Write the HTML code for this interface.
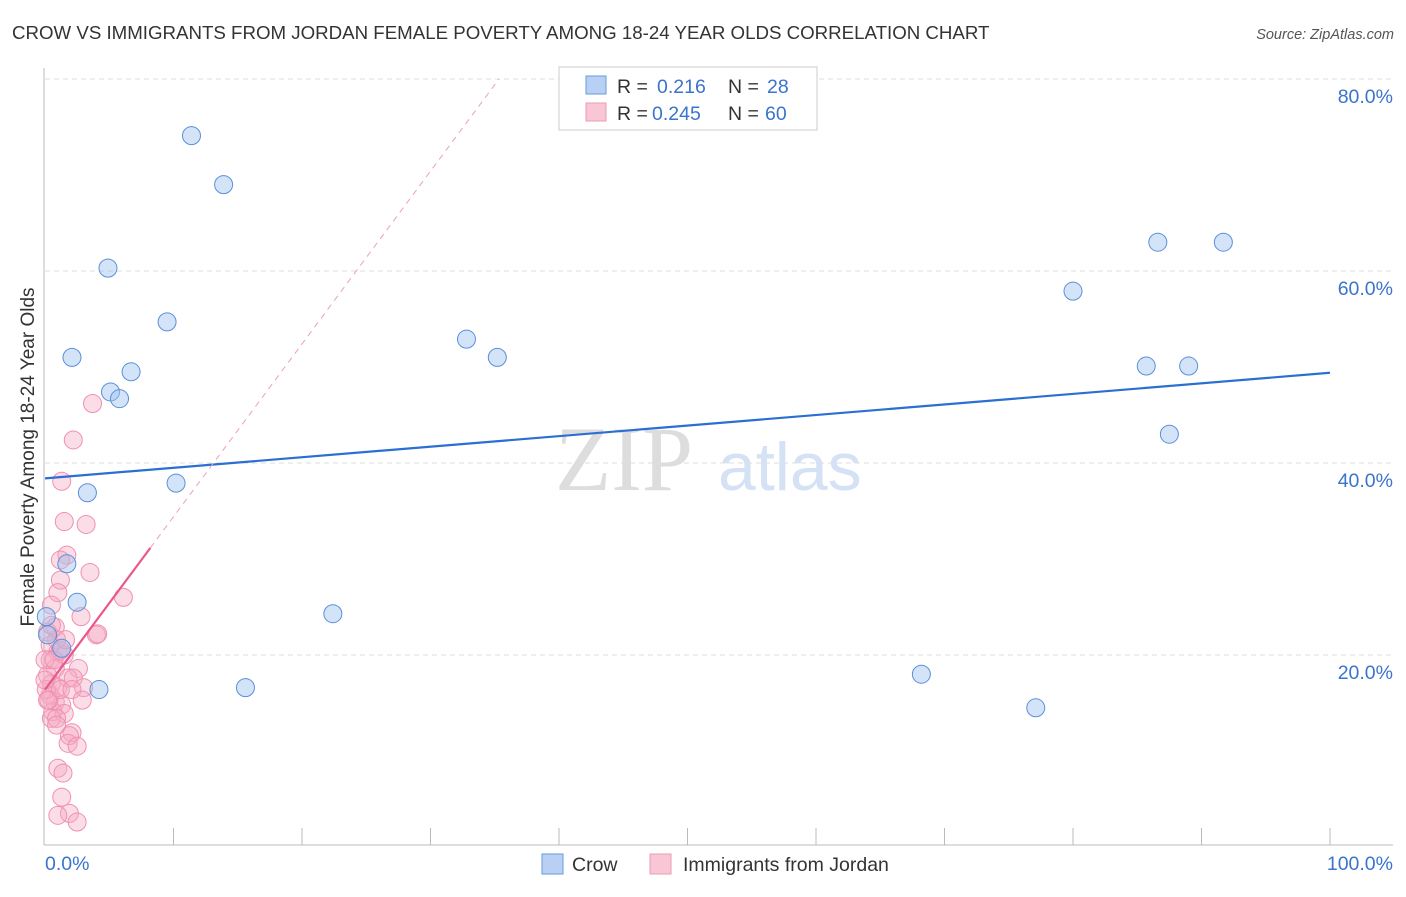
<!DOCTYPE html>
<html><head><meta charset="utf-8"><style>
body{margin:0;background:#fff;font-family:"Liberation Sans",sans-serif}
svg text{font-family:"Liberation Sans",sans-serif}
</style></head><body>
<svg id="c" width="1406" height="892">
<text x="12" y="39" font-size="18.7" fill="#333">CROW VS IMMIGRANTS FROM JORDAN FEMALE POVERTY AMONG 18-24 YEAR OLDS CORRELATION CHART</text>
<text x="1394" y="39" font-size="14.5" fill="#555" text-anchor="end" font-style="italic">Source: ZipAtlas.com</text>
<text x="555" y="490" font-size="92" fill="#ddd" style="font-family:'Liberation Serif',serif">ZIP</text>
<text x="718" y="490" font-size="68" fill="#d5e2f5">atlas</text>
<g id="grid"></g><g id="axes"></g><g id="pts"></g><g id="trend"></g>
<text transform="translate(34,457) rotate(-90)" font-size="19" fill="#333" text-anchor="middle">Female Poverty Among 18-24 Year Olds</text>
<g>
<rect x="559" y="67" width="258" height="63" fill="#fff" stroke="#ccc"/>
<rect x="586" y="76" width="20" height="18" fill="#b8d0f3" stroke="#6a9ad8"/>
<text x="617" y="93" font-size="19.5" fill="#333">R =</text>
<text x="657" y="93" font-size="19.5" fill="#3a74cc">0.216</text>
<text x="728" y="93" font-size="19.5" fill="#333">N =</text>
<text x="767" y="93" font-size="19.5" fill="#3a74cc">28</text>
<rect x="586" y="103" width="20" height="18" fill="#f9c6d6" stroke="#ee9ab5"/>
<text x="617" y="120" font-size="19.5" fill="#333">R =</text>
<text x="652" y="120" font-size="19.5" fill="#3a74cc">0.245</text>
<text x="728" y="120" font-size="19.5" fill="#333">N =</text>
<text x="765" y="120" font-size="19.5" fill="#3a74cc">60</text>
</g>
<g>
<rect x="542" y="854" width="21" height="20" fill="#b8d0f3" stroke="#6a9ad8"/>
<text x="572" y="871" font-size="19.5" fill="#333">Crow</text>
<rect x="650" y="854" width="21" height="20" fill="#f9c6d6" stroke="#ee9ab5"/>
<text x="683" y="871" font-size="19.5" fill="#333">Immigrants from Jordan</text>
</g>
</svg>
<script>
const yTicks=[20,40,60,80];
const crowX=[11.4,13.9,4.9,9.5,2.1,6.7,5.1,5.8,10.2,3.3,1.7,2.5,0.1,22.4,0.2,1.3,4.2,15.6,32.8,35.2,68.2,77.1,80.0,86.6,91.7,85.7,89.0,87.5];
const crowY=[74.1,69.0,60.3,54.7,51.0,49.5,47.4,46.7,37.9,36.9,29.5,25.5,24.0,24.3,22.1,20.7,16.4,16.6,52.9,51.0,18.0,14.5,57.9,63.0,63.0,50.1,50.1,43.0];
const jorX=[3.7,2.2,1.3,1.5,3.2,1.7,1.2,3.5,1.2,1.0,6.1,0.5,2.8,0.8,4.0,4.1,0.9,0.4,1.0,1.5,0.4,0.8,2.6,0.2,1.8,2.2,0.5,1.0,3.0,0.4,0.8,1.3,0.6,1.5,0.5,0.9,2.1,1.9,1.8,2.5,1.0,1.4,1.3,1.9,1.0,2.5,0.2,0.0,0.1,0.3,1.2,1.6,0.5,0.2,0.9,0.0,1.2,2.1,0.7,2.9];
const jorY=[46.2,42.4,38.1,33.9,33.6,30.4,29.9,28.6,27.8,26.5,26.0,25.2,24.0,22.9,22.1,22.2,21.6,21.0,20.3,20.0,19.5,18.6,18.6,17.9,17.6,17.6,17.0,16.6,16.6,15.8,15.1,14.8,14.1,13.9,13.4,13.4,11.9,11.6,10.8,10.5,8.2,7.7,5.2,3.5,3.3,2.6,22.4,19.5,16.4,15.3,20.5,21.6,23.1,15.3,12.7,17.4,16.4,16.4,19.5,15.3];
const crowTrend=[38.4,49.4];
const jorTrend=[16.4,1.8];
const X=v=>45+v*12.85, Y=v=>847-v*9.6;
const NS='http://www.w3.org/2000/svg';
function mk(t,a,p){const e=document.createElementNS(NS,t);for(const k in a)e.setAttribute(k,a[k]);p.appendChild(e);return e;}
const g=document.getElementById('grid'),ax=document.getElementById('axes'),pts=document.getElementById('pts'),tr=document.getElementById('trend');
yTicks.forEach(t=>{
 const l=mk('line',{x1:45,x2:1393,y1:Y(t),y2:Y(t),stroke:'#ddd','stroke-dasharray':'5,4'},g);
 
 
 const tx=mk('text',{x:1393,y:Y(t)+24,'font-size':19.5,fill:'#3a74cc','text-anchor':'end'},g);
 tx.textContent=t.toFixed(1)+'%';
 
 
});
const a1=mk('line',{x1:44,x2:44,y1:68,y2:845,stroke:'#bbb'},ax);


const a2=mk('line',{x1:44,x2:1393,y1:845,y2:845,stroke:'#bbb'},ax);


for(let i=1;i<=10;i++){const tk=mk('line',{x1:X(i*10),x2:X(i*10),y1:828,y2:845,stroke:'#bbb'},ax);
 
 }
const xl=mk('text',{x:45,y:870,'font-size':19.5,fill:'#3a74cc'},ax);xl.textContent='0.0%';


const xr=mk('text',{x:1393,y:870,'font-size':19.5,fill:'#3a74cc','text-anchor':'end'},ax);xr.textContent='100.0%';


jorX.forEach((x,i)=>{const c=mk('circle',{cx:X(x),cy:Y(jorY[i]),r:9,fill:'rgba(246,170,196,0.4)',stroke:'#f090b0','stroke-width':1},pts);
 
 });
crowX.forEach((x,i)=>{const c=mk('circle',{cx:X(x),cy:Y(crowY[i]),r:9,fill:'rgba(160,195,240,0.45)',stroke:'#5b8fd9','stroke-width':1},pts);
 
 });
const ct=mk('line',{x1:X(0),y1:Y(crowTrend[0]),x2:X(100),y2:Y(crowTrend[1]),stroke:'#2a6fd1','stroke-width':2.2},tr);


const xe=(80-jorTrend[0])/jorTrend[1];
const jd=mk('line',{x1:X(8.2),y1:Y(jorTrend[0]+jorTrend[1]*8.2),x2:X(xe),y2:Y(80),stroke:'#eaa0b8','stroke-width':1,'stroke-dasharray':'6,5'},tr);


const js=mk('line',{x1:X(0),y1:Y(jorTrend[0]),x2:X(8.2),y2:Y(jorTrend[0]+jorTrend[1]*8.2),stroke:'#e8588a','stroke-width':2.2},tr);


</script>
</body></html>
